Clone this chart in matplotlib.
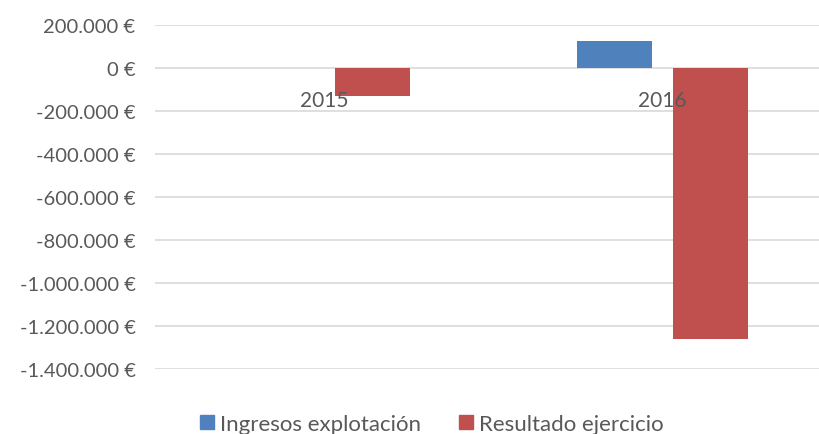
import matplotlib
matplotlib.use("Agg")
import matplotlib.pyplot as plt
from matplotlib.patches import Patch
from matplotlib.ticker import FuncFormatter

plt.rcParams['font.family'] = ['Lato', 'DejaVu Sans']

years = ["2015", "2016"]
ingresos = [0, 125000]
resultado = [-128000, -1262000]
series_names = ["Ingresos explotación", "Resultado ejercicio"]
colors = ["#4F81BD", "#C0504D"]
yticks = list(range(-1400000, 200001, 200000))

fig = plt.figure(figsize=(8.2, 4.35), dpi=100)
ax = fig.add_axes([155/820, 1-370/435, 1-155/820, (370-26)/435])

x = list(range(len(years)))
w = 0.222
off = 0.142
ax.bar([i - off for i in x], ingresos, width=w, color=colors[0], zorder=3)
ax.bar([i + off for i in x], resultado, width=w, color=colors[1], zorder=3)

ax.set_xlim(-0.5, 1.465)
ax.set_ylim(-1400000, 200000)
ax.set_yticks(yticks)

def fmt(v, pos):
    s = f"{abs(int(v)):,}".replace(",", ".")
    return ("-" if v < 0 else "") + s + " €"

ax.yaxis.set_major_formatter(FuncFormatter(fmt))
ax.tick_params(axis='y', length=0, pad=14, labelsize=14.5, labelcolor="#595959")
ax.set_xticks([])
ax.grid(axis='y', color="#D9D9D9", linewidth=1.2, zorder=0)
for s in ax.spines.values():
    s.set_visible(False)

for i, y in zip(x, years):
    ax.annotate(y, xy=(i, 0), xytext=(0, -23.4), textcoords='offset points',
                ha='center', va='center', fontsize=15, color="#595959", zorder=4)

handles = [Patch(color=c) for c in colors]
fig.legend(handles, series_names, loc='center', bbox_to_anchor=(432/820, 1-425/435),
           ncol=2, frameon=False, fontsize=16, labelcolor="#595959",
           handlelength=0.63, handleheight=0.63, handletextpad=0.28, columnspacing=1.7,
           borderpad=0, borderaxespad=0)

fig.savefig("out.png", dpi=100)
